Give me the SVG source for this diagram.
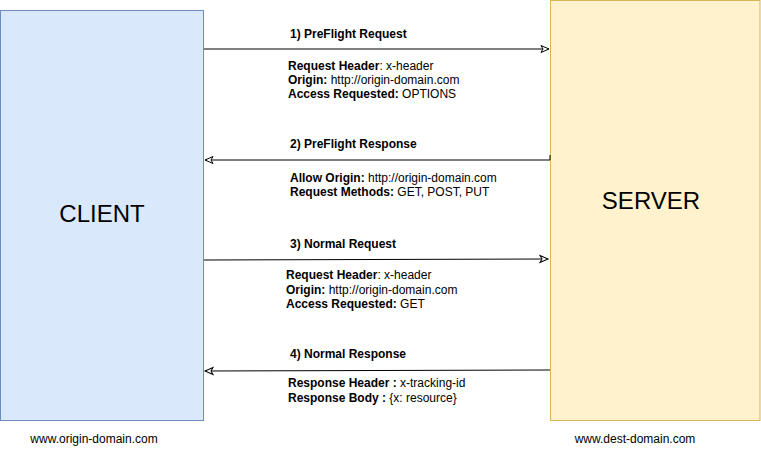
<svg xmlns="http://www.w3.org/2000/svg" width="761" height="461" viewBox="0 0 761 461">
<style>
text{font-family:"Liberation Sans",Arial,Helvetica,sans-serif;fill:#000}
.t{font-size:12px;font-weight:bold}
.d{font-size:12px}
.b{font-weight:bold}
.big{font-size:24px}
.conn{stroke:#000;stroke-width:1;fill:none}
</style>
<defs>
<marker id="arr" markerWidth="12" markerHeight="10" refX="9" refY="5" orient="auto" markerUnits="userSpaceOnUse">
<path d="M1,1.5 L9,5 L1,8.5 L3,5 Z" fill="#fff" stroke="#000" stroke-width="1"/>
</marker>
</defs>
<rect width="761" height="461" fill="#fff"/>
<g id="client">
<rect x="0.5" y="10.5" width="203" height="410" fill="#dae8fc" stroke="#6c8ebf"/>
<text class="big" x="102" y="222" text-anchor="middle">CLIENT</text>
</g>
<g id="server">
<rect x="550.5" y="0.5" width="209.5" height="420" fill="#fff2cc" stroke="#d6b656"/>
<text class="big" x="651" y="209" text-anchor="middle">SERVER</text>
</g>
<g id="connectors">
<path class="conn" d="M204,49 L549,49" marker-end="url(#arr)"/>
<path class="conn" d="M550,155 L550,160 L205,160" marker-end="url(#arr)"/>
<path class="conn" d="M204,260 L548,259" marker-end="url(#arr)"/>
<path class="conn" d="M550,370 L205,371" marker-end="url(#arr)"/>
</g>
<g id="label1">
<text class="t" x="290" y="38">1) PreFlight Request</text>
<text class="d" x="288" y="70"><tspan class="b">Request Header</tspan>: x-header</text>
<text class="d" x="288" y="84"><tspan class="b">Origin:</tspan> http://origin-domain.com</text>
<text class="d" x="288" y="98"><tspan class="b">Access Requested:</tspan> OPTIONS</text>
</g>
<g id="label2">
<text class="t" x="290" y="148">2) PreFlight Response</text>
<text class="d" x="290" y="182"><tspan class="b">Allow Origin:</tspan> http://origin-domain.com</text>
<text class="d" x="290" y="196"><tspan class="b">Request Methods:</tspan> GET, POST, PUT</text>
</g>
<g id="label3">
<text class="t" x="290" y="248">3) Normal Request</text>
<text class="d" x="286" y="279"><tspan class="b">Request Header</tspan>: x-header</text>
<text class="d" x="286" y="294"><tspan class="b">Origin:</tspan> http://origin-domain.com</text>
<text class="d" x="286" y="308"><tspan class="b">Access Requested:</tspan> GET</text>
</g>
<g id="label4">
<text class="t" x="290" y="358">4) Normal Response</text>
<text class="d" x="288" y="387"><tspan class="b">Response Header :</tspan> x-tracking-id</text>
<text class="d" x="288" y="402"><tspan class="b">Response Body :</tspan> {x: resource}</text>
</g>
<g id="footer-client">
<text class="d" x="94" y="443" text-anchor="middle">www.origin-domain.com</text>
</g>
<g id="footer-server">
<text class="d" x="635" y="443" text-anchor="middle">www.dest-domain.com</text>
</g>
</svg>
